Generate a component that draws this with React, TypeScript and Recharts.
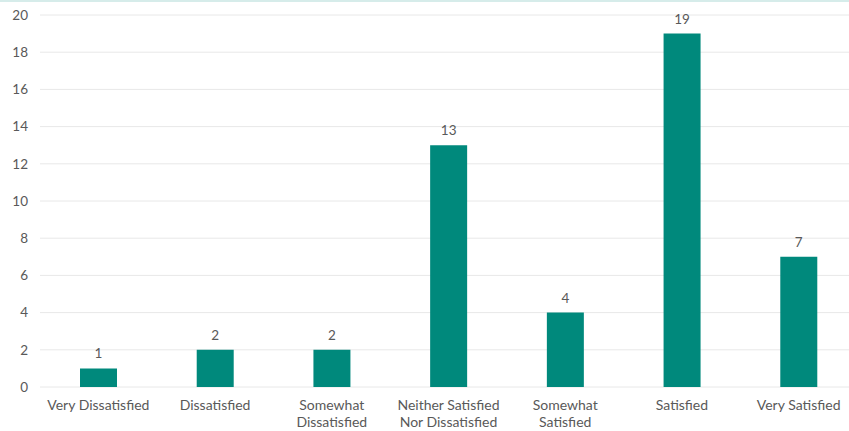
import { BarChart, Bar, XAxis, YAxis, CartesianGrid, LabelList } from "recharts";

const categories = [
  "Very Dissatisfied",
  "Dissatisfied",
  "Somewhat\nDissatisfied",
  "Neither Satisfied\nNor Dissatisfied",
  "Somewhat\nSatisfied",
  "Satisfied",
  "Very Satisfied",
];
const responses = [1, 2, 2, 13, 4, 19, 7];
const yTicks = [0, 2, 4, 6, 8, 10, 12, 14, 16, 18, 20];

const data = categories.map((name, i) => ({ name, count: responses[i] }));

const FONT = "Lato, 'DejaVu Sans', sans-serif";
const TEXT = "#595959";

function CategoryTick({ x, y, payload }: any) {
  const lines = String(payload.value).split("\n");
  return (
    <text x={x} y={y + 5} textAnchor="middle" fill={TEXT} fontSize={14} fontFamily={FONT}>
      {lines.map((line, i) => (
        <tspan key={i} x={x} dy={i === 0 ? "0.71em" : 17}>
          {line}
        </tspan>
      ))}
    </text>
  );
}

export default function App() {
  return (
    <div
      style={{
        position: "fixed",
        left: 0,
        top: 0,
        width: 849,
        height: 431,
        overflow: "hidden",
        background: "#fff",
      }}
    >
      <div style={{ position: "absolute", left: 0, top: 0, width: 849, height: 2, background: "#d6ecea" }} />
      <BarChart
        width={858}
        height={431}
        data={data}
        margin={{ top: 15, right: 1, left: 0, bottom: 0 }}
        barSize={37}
      >
        <CartesianGrid vertical={false} stroke="#e8e8e8" />
        <XAxis
          dataKey="name"
          height={44}
          axisLine={false}
          tickLine={false}
          interval={0}
          tick={<CategoryTick />}
        />
        <YAxis
          width={40}
          domain={[0, 20]}
          ticks={yTicks}
          axisLine={false}
          tickLine={false}
          tickMargin={6}
          tick={{ fill: TEXT, fontSize: 13.5, fontFamily: FONT }}
        />
        <Bar dataKey="count" fill="#00897c" isAnimationActive={false}>
          <LabelList
            dataKey="count"
            position="top"
            offset={10}
            fill={TEXT}
            fontSize={13.5}
            fontFamily={FONT}
          />
        </Bar>
      </BarChart>
    </div>
  );
}
